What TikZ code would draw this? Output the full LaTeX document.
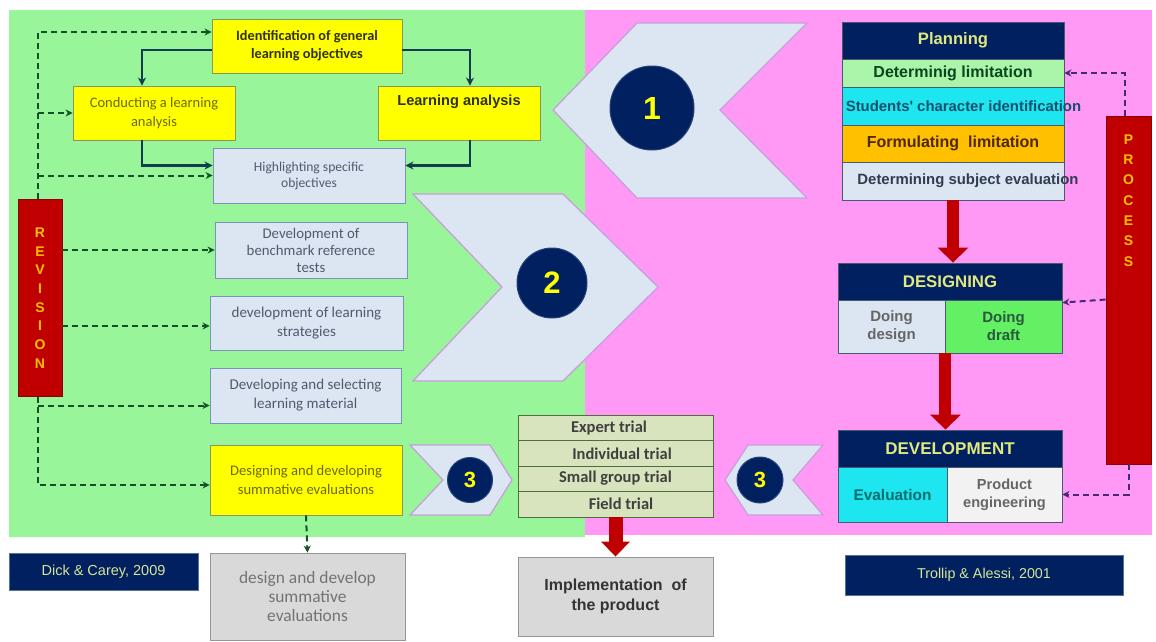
\documentclass[tikz,border=0pt]{standalone}
\usepackage{fontspec}
\setmainfont{Carlito}
\newfontfamily\arial{Liberation Sans}
\usetikzlibrary{arrows.meta}
\definecolor{bggreen}{RGB}{153,245,153}
\definecolor{bgpink}{RGB}{255,153,245}
\definecolor{cyel}{RGB}{255,255,0}
\definecolor{cyelb}{RGB}{140,150,90}
\definecolor{clblue}{RGB}{220,230,242}
\definecolor{cblueb}{RGB}{120,150,180}
\definecolor{cnavy}{RGB}{0,32,96}
\definecolor{cred}{RGB}{192,0,0}
\definecolor{credb}{RGB}{140,0,0}
\definecolor{corange}{RGB}{255,192,0}
\definecolor{csolid}{RGB}{20,60,80}
\definecolor{cgdash}{RGB}{20,80,40}
\definecolor{cpdash}{RGB}{70,40,120}
\definecolor{cgray}{RGB}{217,217,217}
\definecolor{cgrayb}{RGB}{150,150,150}
\definecolor{ctrial}{RGB}{215,228,189}
\definecolor{ctrialb}{RGB}{80,110,60}
\definecolor{cchevb}{RGB}{200,160,220}
\definecolor{cdick}{RGB}{215,228,150}
\definecolor{cplan}{RGB}{225,232,125}
\definecolor{cdetlim}{RGB}{170,245,170}
\definecolor{cdetlimt}{RGB}{10,70,30}
\definecolor{ccyan}{RGB}{30,230,240}
\definecolor{cstudt}{RGB}{20,80,110}
\definecolor{cformt}{RGB}{80,40,0}
\definecolor{cdsubt}{RGB}{50,60,80}
\definecolor{cdraft}{RGB}{100,240,100}
\definecolor{cdraftt}{RGB}{40,90,60}
\definecolor{cevalt}{RGB}{0,110,110}
\definecolor{cwhite}{RGB}{242,242,242}
\definecolor{ctdark}{RGB}{50,50,10}
\definecolor{colive}{RGB}{110,105,0}
\definecolor{cgtxt}{RGB}{80,90,110}
\begin{document}
\begin{tikzpicture}[x=1pt,y=-1pt,
  anybox/.style={draw, line width=0.9pt, inner sep=2pt, align=center},
  ybox/.style={anybox, fill=cyel, draw=cyelb},
  bbox/.style={anybox, fill=clblue, draw=cblueb, text=cgtxt},
  gbox/.style={anybox, fill=cgray, draw=cgrayb},
  nbox/.style={anybox, fill=cnavy, draw=cblueb!70!cnavy},
  srow/.style={anybox, draw=cblueb!60!black, minimum width=222pt, font={\arial\bfseries\fontsize{16}{18}\selectfont}},
  drow/.style={anybox, draw=cblueb!60!black, font={\arial\bfseries\fontsize{15}{18}\selectfont}},
  rbar/.style={anybox, fill=cred, draw=credb, text=corange},
  trialrow/.style={anybox, fill=ctrial, draw=ctrialb, minimum width=195pt, text=black!75, font={\bfseries\fontsize{16.5}{18}\selectfont}},
  chev/.style={fill=clblue, draw=cchevb, line width=1.3pt, line join=miter},
  numc/.style={circle, fill=cnavy, draw=cnavy!70!cblueb, line width=1pt, text=cyel, inner sep=0pt, font=\arial\bfseries},
  gdash/.style={draw=cgdash, line width=2pt, dash pattern=on 6pt off 4pt, -{Stealth[length=7pt,width=7pt]}},
  pdash/.style={draw=cpdash, line width=2pt, dash pattern=on 6pt off 4pt, -{Stealth[length=7pt,width=7pt]}},
  sarrow/.style={draw=csolid, line width=2.6pt, -{Stealth[length=8pt,width=8pt]}},
  redarr/.style={draw=cred, line width=12pt, -{Triangle[width=30pt,length=15pt]}}
]
\useasboundingbox (0,0) rectangle (1156,641);
\fill[white] (0,0) rectangle (1156,641);
\fill[bggreen] (9,10) rectangle (585,537);
\fill[bgpink] (585,10) rectangle (1152,535);

% ---------- left column ----------
\node[ybox, minimum width=190pt, minimum height=54pt, text=ctdark, font={\bfseries\fontsize{14.3}{18}\selectfont}] (ident) at (307,46) {Identification of general\\learning objectives};
\node[ybox, minimum width=162pt, minimum height=54pt, text=colive, font={\fontsize{14.5}{19}\selectfont}] (cond) at (154,113) {Conducting a learning\\analysis};
\node[ybox, minimum width=162pt, minimum height=54pt, text=ctdark, font={\arial\bfseries\fontsize{14.6}{16}\selectfont}] (learn) at (459,113) {Learning analysis\\[9pt]\mbox{}};
\node[bbox, minimum width=192pt, minimum height=55pt, font={\fontsize{13.6}{16}\selectfont}] (high) at (309,175.5) {Highlighting specific\\objectives};
\node[bbox, minimum width=192pt, minimum height=56pt, font={\fontsize{14.8}{17}\selectfont}] (bench) at (311,250) {Development of\\benchmark reference\\tests};
\node[bbox, minimum width=193pt, minimum height=54pt, font={\fontsize{15}{19}\selectfont}] (strat) at (306.5,323) {development of learning\\strategies};
\node[bbox, minimum width=191pt, minimum height=55pt, font={\fontsize{15}{19}\selectfont}] (mat) at (305.5,395.5) {Developing and selecting\\learning material};
\node[ybox, minimum width=192pt, minimum height=70pt, text=colive, font={\fontsize{14.6}{19}\selectfont}] (summ) at (306,480) {Designing and developing\\summative evaluations};
\node[gbox, minimum width=195pt, minimum height=87pt, text=black!55, font={\fontsize{17.4}{19}\selectfont}] (dsumm) at (307.5,596.5) {design and develop\\summative\\evaluations};
\node[nbox, minimum width=189pt, minimum height=37pt, text=cdick, font={\arial\fontsize{14.5}{16}\selectfont}] (dick) at (103.5,571.5) {Dick \& Carey, 2009};
\node[rbar, minimum width=44pt, minimum height=197pt, font={\arial\bfseries\fontsize{14}{18.7}\selectfont}] (rev) at (40,298) {R\\E\\V\\I\\S\\I\\O\\N};

% solid arrows
\draw[sarrow] ([yshift=-4pt]ident.west) -| ([xshift=-12pt]cond.north);
\draw[sarrow] ([yshift=-4pt]ident.east) -| ([xshift=11pt]learn.north);
\draw[sarrow] ([xshift=-12pt]cond.south) |- ([yshift=10pt]high.west);
\draw[sarrow] ([xshift=11pt]learn.south) |- ([yshift=10pt]high.east);

% revision dashed arrows
\coordinate (vtop) at (38,32);
\draw[gdash] (rev.north -| vtop) -- (vtop) -- (vtop -| ident.west);
\draw[gdash] (cond.west -| vtop) -- (cond.west);
\draw[gdash] (high.west -| vtop) -- (high.west);
\draw[gdash] (rev.east |- bench.west) -- (bench.west);
\draw[gdash] ([yshift=-3pt]rev.east |- strat.west) -- ([yshift=-3pt]strat.west);
\draw[gdash] ([yshift=-10pt]mat.west -| vtop) -- ([yshift=-10pt]mat.west);
\draw[gdash] (rev.south -| vtop) -- ([yshift=-5pt]summ.west -| vtop) -- ([yshift=-5pt]summ.west);
\draw[gdash, -{Stealth[length=7pt,width=7pt,fill=cpdash]}] (summ.south) -- (dsumm.north);

% ---------- chevrons ----------
\filldraw[chev] (553,110) -- (637,23) -- (807,23) -- (720,110) -- (807,198) -- (637,198) -- cycle;
\node[numc, minimum size=84pt, font={\arial\bfseries\fontsize{32}{32}\selectfont}] (n1) at (652,108) {1};
\filldraw[chev] (413,194) -- (563,194) -- (658,287) -- (563,381) -- (413,381) -- (502,287) -- cycle;
\node[numc, minimum size=70pt, font={\arial\bfseries\fontsize{31}{31}\selectfont}] (n2) at (552,283) {2};
\filldraw[chev] (410,445) -- (490,445) -- (512,480) -- (490,515) -- (410,515) -- (443,480) -- cycle;
\node[numc, minimum size=45pt, font={\arial\bfseries\fontsize{22}{22}\selectfont}] (n3a) at (470,480) {3};
\filldraw[chev] (725,480) -- (748,445) -- (823,445) -- (793,480) -- (823,515) -- (748,515) -- cycle;
\node[numc, minimum size=46pt, font={\arial\bfseries\fontsize{22}{22}\selectfont}] (n3b) at (760,480) {3};

% ---------- trials ----------
\node[trialrow, minimum height=26pt] (t1) at (615.5,428) {\hspace{-13pt}Expert trial};
\node[trialrow, minimum height=25.5pt] (t2) at (615.5,453.5) {\hspace{13pt}Individual trial};
\node[trialrow, minimum height=25pt] (t3) at (615.5,478.5) {Small group trial};
\node[trialrow, minimum height=26pt] (t4) at (615.5,504) {\hspace{11pt}Field trial};
\node[gbox, minimum width=195pt, minimum height=79pt, text=black!80, font={\arial\bfseries\fontsize{16}{20}\selectfont}] (impl) at (615.5,596.5) {Implementation\ \ of\\the product};
\draw[redarr, line width=14pt, -{Triangle[width=28pt,length=15pt]}] (t4.south) -- (impl.north);

% ---------- right column ----------
\node[srow, fill=cnavy, text=cplan, minimum height=37pt, font={\arial\bfseries\fontsize{16.6}{18}\selectfont}] (plan) at (953,40.5) {Planning};
\node[srow, fill=cdetlim, text=cdetlimt, minimum height=28pt] (detlim) at (953,73) {Determinig limitation};
\node[srow, fill=ccyan, text=cstudt, minimum height=38pt, font={\arial\bfseries\fontsize{14.9}{16}\selectfont}] (stud) at (953,106) {\makebox[0pt][c]{\hspace{21pt}Students' character identification}};
\node[srow, fill=corange, text=cformt, minimum height=37pt] (form) at (953,143.5) {Formulating\ \ limitation};
\node[srow, fill=clblue, text=cdsubt, minimum height=38pt, font={\arial\bfseries\fontsize{14.9}{16}\selectfont}] (detsub) at (953,181) {\makebox[0pt][c]{\hspace{30pt}Determining subject evaluation}};

\node[drow, fill=cnavy, text=cplan, minimum width=224pt, minimum height=37pt, font={\arial\bfseries\fontsize{16.8}{18}\selectfont}] (desh) at (950,281.5) {DESIGNING};
\node[drow, fill=clblue, text=black!60, minimum width=107pt, minimum height=53pt] (ddes) at (891.5,326.5) {Doing\\design};
\node[drow, fill=cdraft, text=cdraftt, minimum width=117pt, minimum height=53pt] (ddraft) at (1003.5,326.5) {Doing\\draft};
\node[drow, fill=cnavy, text=cplan, minimum width=224pt, minimum height=37pt, font={\arial\bfseries\fontsize{17}{19}\selectfont}] (devh) at (950,448.5) {DEVELOPMENT};
\node[drow, fill=ccyan, text=cevalt, minimum width=109pt, minimum height=55pt, font={\arial\bfseries\fontsize{15.4}{18}\selectfont}] (deval) at (892.5,494.5) {Evaluation};
\node[drow, fill=cwhite, text=black!60, minimum width=115pt, minimum height=55pt, font={\arial\bfseries\fontsize{14.6}{18}\selectfont}] (dprod) at (1004.5,494.5) {Product\\engineering};

\draw[redarr] (detsub.south) -- (detsub.south |- desh.north);
\draw[redarr] (ddes.south east) -- (ddes.south east |- devh.north);

\node[rbar, minimum width=45pt, minimum height=348pt, font={\arial\bfseries\fontsize{14}{20.3}\selectfont}] (proc) at (1128.5,290) {\raisebox{24pt}[0pt][0pt]{\begin{tabular}[b]{@{}c@{}}P\\R\\O\\C\\E\\S\\S\end{tabular}}};

\draw[pdash] ([xshift=-4pt]proc.north) |- (detlim.east);
\draw[pdash] (proc.west |- ddraft.north east) -- ([yshift=-3pt]ddraft.north east);
\draw[pdash] (proc.south) |- (dprod.east);

\node[nbox, minimum width=278pt, minimum height=40pt, text=cdick, font={\arial\fontsize{14.3}{16}\selectfont}] (trol) at (984,575) {Trollip \& Alessi, 2001};
\end{tikzpicture}
\end{document}
